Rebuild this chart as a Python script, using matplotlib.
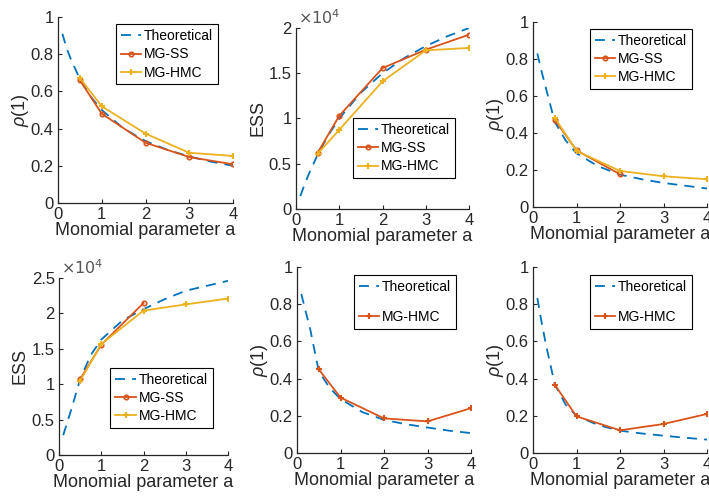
import matplotlib.pyplot as plt
import numpy as np
from matplotlib.ticker import FuncFormatter

plt.rcParams['font.family'] = ['Liberation Sans', 'DejaVu Sans']
plt.rcParams['mathtext.fontset'] = 'custom'
plt.rcParams['mathtext.it'] = 'Liberation Sans:italic'

# MATLAB default colours
C_THEO = (0.0, 0.447, 0.741)
C_SS = (0.85, 0.325, 0.098)
C_HMC = (0.929, 0.694, 0.125)
DARK = '#262626'

# curve grid for the theoretical lines
a_theo = [0.1, 0.2, 0.3, 0.5, 0.75, 1, 1.5, 2, 2.5, 3, 3.5, 4]
a_pts = [0.5, 1, 2, 3, 4]

# top left: rho(1)
rho1_theo = [0.91, 0.83, 0.77, 0.667, 0.571, 0.5, 0.4, 0.333, 0.286, 0.25, 0.222, 0.2]
rho1_ss = [0.66, 0.48, 0.324, 0.247, 0.208]
rho1_hmc = [0.672, 0.52, 0.373, 0.27, 0.253]

# top middle: ESS
ess2_theo = [1430, 2730, 3910, 6000, 8180, 10000, 12860, 15000, 16670, 18000, 19090, 20000]
ess2_ss = [6200, 10300, 15570, 17600, 19260]
ess2_hmc = [6100, 8750, 14100, 17530, 17800]

# top right: rho(1)
rho3_theo = [0.83, 0.73, 0.64, 0.46, 0.36, 0.29, 0.22, 0.175, 0.15, 0.13, 0.115, 0.10]
rho3_ss = [0.472, 0.306, 0.177]
rho3_hmc = [0.483, 0.303, 0.195, 0.166, 0.15]

# bottom left: ESS
ess4_theo = [2800, 4700, 6600, 10700, 14100, 16300, 19000, 20600, 22000, 23200, 23900, 24600]
ess4_ss = [10700, 15570, 21460]
ess4_hmc = [10470, 15660, 20400, 21270, 22100]

# bottom middle / right: rho(1), HMC only
rho5_theo = [0.855, 0.76, 0.67, 0.44, 0.35, 0.29, 0.22, 0.178, 0.155, 0.137, 0.12, 0.107]
rho5_hmc = [0.45, 0.298, 0.186, 0.17, 0.241]
rho6_theo = [0.833, 0.70, 0.58, 0.37, 0.26, 0.20, 0.15, 0.12, 0.105, 0.093, 0.082, 0.072]
rho6_hmc = [0.367, 0.197, 0.122, 0.156, 0.21]

W, H = 709, 496
fig = plt.figure(figsize=(W / 100, H / 100), dpi=100)


def make_axes(left, right, top, bottom):
    ax = fig.add_axes([left / W, 1 - bottom / H, (right - left) / W, (bottom - top) / H])
    for s in ['top', 'right']:
        ax.spines[s].set_visible(False)
    for s in ['left', 'bottom']:
        ax.spines[s].set_color(DARK)
        ax.spines[s].set_linewidth(0.9)
    ax.tick_params(direction='in', length=3, width=0.8, colors=DARK, labelsize=12, pad=3)
    ax.set_xlim(0, 4)
    ax.set_xticks([0, 1, 2, 3, 4])
    ax.set_xlabel('Monomial parameter a', fontsize=13, color=DARK, labelpad=0)
    return ax


def theo(ax, y):
    ax.plot(a_theo, y, color=C_THEO, lw=1.3, dashes=(5.5, 4), label='Theoretical')


def ss(ax, y, color=C_SS, label='MG-SS'):
    ax.plot(a_pts[:len(y)], y, '-o', color=color, lw=1.3, ms=3.2, mfc='none', mew=1.2, label=label)


def hmc(ax, y, color=C_HMC, label='MG-HMC'):
    ax.plot(a_pts[:len(y)], y, '-+', color=color, lw=1.3, ms=5, mew=1.5, label=label)


def legend(ax, loc, anchor, spacing=0.3):
    lg = ax.legend(loc=loc, bbox_to_anchor=anchor, fontsize=10, frameon=True, fancybox=False,
                   edgecolor='black', framealpha=1, handlelength=1.5, handletextpad=0.2,
                   labelspacing=spacing, borderpad=0.35, borderaxespad=0)
    lg.get_frame().set_linewidth(0.8)


def rho_axis(ax):
    ax.set_ylim(0, 1)
    ax.set_yticks([0, 0.2, 0.4, 0.6, 0.8, 1])
    ax.yaxis.set_major_formatter(FuncFormatter(lambda v, p: '%g' % v))
    ax.set_ylabel(r'$\rho$(1)', fontsize=13, color=DARK, labelpad=0)


def ess_axis(ax, top, step):
    ax.set_ylim(0, top)
    ax.set_yticks(np.arange(0, top + 1, step))
    ax.yaxis.set_major_formatter(FuncFormatter(lambda v, p: '%g' % (v / 1e4)))
    ax.set_ylabel('ESS', fontsize=13, color=DARK, labelpad=2)
    ax.text(0.01, 1.005, r'$\times10^4$', transform=ax.transAxes, fontsize=11.5, color='#555555',
            ha='left', va='bottom')


# top left
ax = make_axes(58, 233, 17, 203)
theo(ax, rho1_theo)
ss(ax, rho1_ss)
hmc(ax, rho1_hmc)
rho_axis(ax)
legend(ax, 'upper right', (0.915, 0.96))

# top middle
ax = make_axes(296, 469, 28, 209)
theo(ax, ess2_theo)
ss(ax, ess2_ss)
hmc(ax, ess2_hmc)
ess_axis(ax, 20000, 5000)
legend(ax, 'lower right', (0.92, 0.17))

# top right
ax = make_axes(533, 707, 22, 207)
theo(ax, rho3_theo)
ss(ax, rho3_ss)
hmc(ax, rho3_hmc)
rho_axis(ax)
legend(ax, 'upper right', (0.915, 0.962))

# bottom left
ax = make_axes(59, 228, 278, 455)
theo(ax, ess4_theo)
ss(ax, ess4_ss)
hmc(ax, ess4_hmc)
ess_axis(ax, 25000, 5000)
legend(ax, 'lower right', (0.91, 0.152))

# bottom middle
ax = make_axes(297, 471, 267, 453)
theo(ax, rho5_theo)
hmc(ax, rho5_hmc, color=C_SS)
rho_axis(ax)
legend(ax, 'upper right', (0.915, 0.957), spacing=1.15)

# bottom right
ax = make_axes(533, 707, 267, 453)
theo(ax, rho6_theo)
hmc(ax, rho6_hmc, color=C_SS)
rho_axis(ax)
legend(ax, 'upper right', (0.915, 0.957), spacing=1.15)

fig.savefig('out.png', dpi=100)
